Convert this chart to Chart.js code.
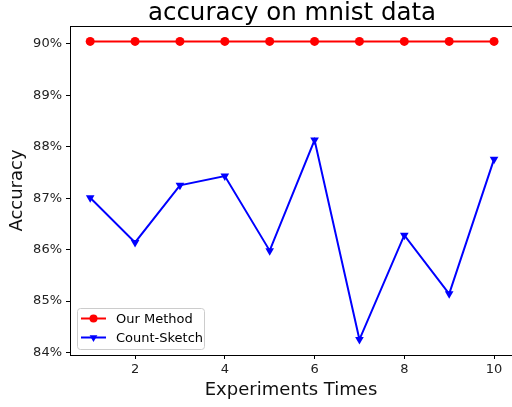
<!DOCTYPE html>
<html>
<head>
<meta charset="utf-8">
<script src="https://cdn.jsdelivr.net/npm/chart.js@4.4.1/dist/chart.umd.min.js"></script>
<style>
  html, body { margin: 0; padding: 0; background: #fff; overflow: hidden; }
  canvas { display: block; }
</style>
</head>
<body>
<canvas id="accChart" width="512" height="407"></canvas>
<script>
const experiments = [1, 2, 3, 4, 5, 6, 7, 8, 9, 10];
const ourMethod = [90.05, 90.05, 90.05, 90.05, 90.05, 90.05, 90.05, 90.05, 90.05, 90.05];
const countSketch = [87.01, 86.14, 87.25, 87.43, 85.98, 88.13, 84.25, 86.28, 85.14, 87.76];
const xTicks = [2, 4, 6, 8, 10];
const yTicks = [84, 85, 86, 87, 88, 89, 90];

const FONT = 'DejaVu Sans';

// title centred over the (partly cropped) axes, like matplotlib
const axesTitle = {
  id: 'axesTitle',
  afterDraw(chart) {
    const { ctx } = chart;
    ctx.save();
    ctx.fillStyle = '#000';
    ctx.font = '24.5px "' + FONT + '"';
    ctx.textAlign = 'center';
    ctx.textBaseline = 'alphabetic';
    ctx.fillText('accuracy on mnist data', 292, 20);
    ctx.restore();
  }
};

// top spine; the right one falls off the picture
const frame = {
  id: 'frame',
  afterDatasetsDraw(chart) {
    const { ctx, chartArea: a } = chart;
    ctx.save();
    ctx.strokeStyle = '#000';
    ctx.lineWidth = 1;
    ctx.beginPath();
    ctx.moveTo(a.left, a.top + 0.5);
    ctx.lineTo(chart.width, a.top + 0.5);
    ctx.stroke();
    ctx.restore();
  }
};

// legend inside the axes, lower left
const innerLegend = {
  id: 'innerLegend',
  afterDraw(chart) {
    const { ctx, chartArea: a } = chart;
    const x0 = a.left + 7, y0 = a.bottom - 47, w = 127, h = 41;
    ctx.save();
    ctx.fillStyle = 'rgba(255,255,255,0.8)';
    ctx.strokeStyle = '#cccccc';
    ctx.lineWidth = 1;
    ctx.beginPath();
    ctx.roundRect(x0 + 0.5, y0 + 0.5, w, h, 3);
    ctx.fill();
    ctx.stroke();
    ctx.font = '13px "' + FONT + '"';
    ctx.textBaseline = 'middle';
    chart.data.datasets.forEach((ds, i) => {
      const cy = y0 + 10.5 + i * 19;
      ctx.strokeStyle = ds.borderColor;
      ctx.lineWidth = 2;
      ctx.beginPath();
      ctx.moveTo(x0 + 4, cy);
      ctx.lineTo(x0 + 29, cy);
      ctx.stroke();
      ctx.fillStyle = ds.backgroundColor;
      ctx.strokeStyle = ds.borderColor;
      Chart.helpers.drawPoint(ctx, {
        pointStyle: ds.pointStyle, radius: ds.pointRadius - 0.5, rotation: ds.pointRotation || 0,
        borderWidth: 0
      }, x0 + 16.5, cy);
      ctx.fillStyle = '#000';
      ctx.fillText(ds.label, x0 + 39, cy + 1);
    });
    ctx.restore();
  }
};

new Chart(document.getElementById('accChart'), {
  type: 'line',
  data: {
    labels: experiments,
    datasets: [{
      label: 'Our Method',
      data: experiments.map((x, i) => ({ x: x, y: ourMethod[i] })),
      borderColor: '#ff0000',
      backgroundColor: '#ff0000',
      borderWidth: 2,
      pointStyle: 'circle',
      pointRadius: 4.5,
      pointBorderWidth: 0
    }, {
      label: 'Count-Sketch',
      data: experiments.map((x, i) => ({ x: x, y: countSketch[i] })),
      borderColor: '#0000ff',
      backgroundColor: '#0000ff',
      borderWidth: 2,
      pointStyle: 'triangle',
      pointRotation: 180,
      pointRadius: 5,
      pointBorderWidth: 0
    }]
  },
  options: {
    responsive: false,
    animation: false,
    layout: { autoPadding: false, padding: { top: 26, right: 0, bottom: 0, left: 0 } },
    plugins: {
      legend: { display: false },
      title: { display: false },
      tooltip: { enabled: false }
    },
    scales: {
      x: {
        type: 'linear',
        min: 0.55,
        max: 10.40,
        afterBuildTicks: axis => { axis.ticks = xTicks.map(v => ({ value: v })); },
        afterFit: axis => {
          axis.height = 52;
          axis.paddingLeft = 0;
          axis.paddingRight = 0;
        },
        grid: { drawOnChartArea: false, drawTicks: true, tickLength: 4, color: '#000' },
        border: { display: true, color: '#000', width: 1 },
        ticks: { color: '#222', padding: 3, font: { family: FONT, size: 13 }, maxRotation: 0 },
        title: {
          display: true, text: 'Experiments Times', color: '#111',
          font: { family: FONT, size: 18 }, padding: { top: 0, bottom: 6 }
        }
      },
      y: {
        min: 83.95,
        max: 90.35,
        afterBuildTicks: axis => { axis.ticks = yTicks.map(v => ({ value: v })); },
        afterFit: axis => { axis.width = 70; },
        grid: { drawOnChartArea: false, drawTicks: true, tickLength: 4, color: '#000' },
        border: { display: true, color: '#000', width: 1 },
        ticks: {
          color: '#222', padding: 4, font: { family: FONT, size: 13 },
          callback: v => v + '%'
        },
        title: {
          display: true, text: 'Accuracy', color: '#111',
          font: { family: FONT, size: 18 }, padding: { top: 7, bottom: 0 }
        }
      }
    }
  },
  plugins: [axesTitle, frame, innerLegend]
});
</script>
</body>
</html>
